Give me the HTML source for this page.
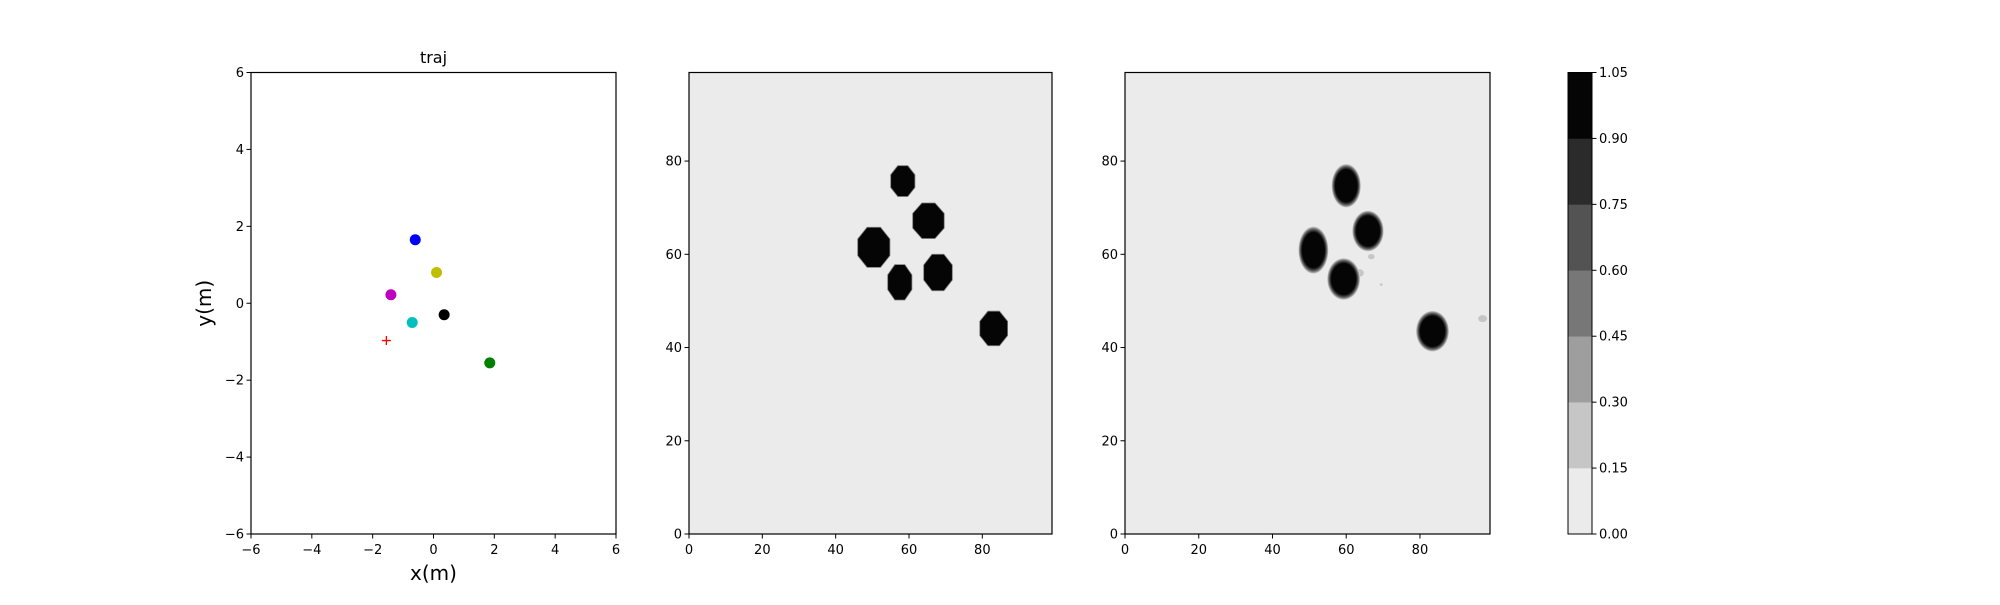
<!DOCTYPE html>
<html><head><meta charset="utf-8"><style>
html,body{margin:0;padding:0;background:#fff;}
svg text{font-family:"DejaVu Sans","Liberation Sans",sans-serif;fill:#000;}
</style></head><body>
<svg id="fig" width="2000" height="600" xmlns="http://www.w3.org/2000/svg">
<defs>
<radialGradient id="soft" cx="0.5" cy="0.5" r="0.5">
<stop offset="0" stop-color="#050505"/><stop offset="0.74" stop-color="#050505"/>
<stop offset="0.8" stop-color="#2b2b2b"/><stop offset="0.86" stop-color="#535353"/>
<stop offset="0.9" stop-color="#777"/><stop offset="0.94" stop-color="#9e9e9e"/>
<stop offset="0.975" stop-color="#c6c6c6"/><stop offset="1" stop-color="#ebebeb"/>
</radialGradient>
</defs>
</svg>
<script>
// Panel 1 data: trajectory points
const ptX = [-0.6, 0.1, -1.4, 0.35, -0.7, 1.85];
const ptY = [1.65, 0.8, 0.22, -0.3, -0.5, -1.55];
const ptColors = ['#0000ff','#bfbf00','#bf00bf','#000000','#00bfbf','#008000'];
const goalX = [-1.55];
const goalY = [-0.97];
const p1Ticks = [-6,-4,-2,0,2,4,6];
// Panel 2 data: hard octagon blobs (center x, center y, radius x, radius y)
const b2X = [58.3, 65.3, 50.4, 57.5, 67.9, 83.1];
const b2Y = [75.7, 67.2, 61.5, 54.0, 56.1, 44.1];
const b2RX = [3.3, 4.3, 4.4, 3.3, 3.9, 3.8];
const b2RY = [3.3, 3.8, 4.3, 3.8, 3.9, 3.7];
// Panel 3 data: soft blobs
const b3X = [60.0, 65.9, 51.1, 59.3, 83.4];
const b3Y = [74.7, 65.0, 60.9, 54.7, 43.5];
const b3RX = [4.0, 4.3, 4.1, 4.5, 4.5];
const b3RY = [4.7, 4.4, 5.1, 4.5, 4.4];
const speckX = [69.5, 97.0, 66.8, 63.5];
const speckY = [53.5, 46.2, 59.5, 56.0];
const speckR = [0.4, 1.2, 0.9, 1.3];
const hmTicks = [0,20,40,60,80];
// Colorbar
const cbLevels = [0,0.15,0.30,0.45,0.60,0.75,0.90,1.05];
const cbColors = ['#ebebeb','#c6c6c6','#9e9e9e','#777777','#535353','#2b2b2b','#050505'];
const cbLabels = ['0.00','0.15','0.30','0.45','0.60','0.75','0.90','1.05'];

const NS='http://www.w3.org/2000/svg';
const svg=document.getElementById('fig');
function mk(tag,attrs,parent){const e=document.createElementNS(NS,tag);for(const k in attrs)e.setAttribute(k,attrs[k]);(parent||svg).appendChild(e);return e;}
const TOP=72.5,BOT=534;
function lin(d0,d1,p0,p1){return v=>p0+(v-d0)/(d1-d0)*(p1-p0);}

function axesFrame(g,L,R,fill){
  const r=mk('rect',{x:L,y:TOP,width:R-L,height:BOT-TOP,fill:fill,stroke:'#000','stroke-width':1.2},g);
  
  
}
function ticks(g,xs,xf,ys,yf,L,fmt){
  xs.forEach(v=>{const x=xf(v);
    mk('line',{x1:x,x2:x,y1:BOT,y2:BOT+4.5,stroke:'#000'},g);
    const t=mk('text',{x:x,y:BOT+20,'text-anchor':'middle','font-size':13},g);t.textContent=fmt(v);
    
    });
  ys.forEach(v=>{const y=yf(v);
    mk('line',{x1:L-4.5,x2:L,y1:y,y2:y,stroke:'#000'},g);
    const t=mk('text',{x:L-7,y:y+4.5,'text-anchor':'end','font-size':13},g);t.textContent=fmt(v);
    
    });
}
const fmtN=v=>(v<0?'\u2212'+Math.abs(v):''+v);

// Panel 1
const g1=mk('g',{});


const L1=251,R1=616;
axesFrame(g1,L1,R1,'#fff');
const x1=lin(-6,6,L1,R1), y1=lin(-6,6,BOT,TOP);
ticks(g1,p1Ticks,x1,p1Ticks,y1,L1,fmtN);
ptX.forEach((v,i)=>{const c=mk('circle',{cx:x1(v),cy:y1(ptY[i]),r:5.5,fill:ptColors[i]},g1);
  
  });
goalX.forEach((v,i)=>{const cx=x1(v),cy=y1(goalY[i]);
  const p=mk('path',{d:`M${cx-4.5},${cy}H${cx+4.5}M${cx},${cy-4.5}V${cy+4.5}`,stroke:'#ff0000','stroke-width':1.3},g1);
  
  });
let t=mk('text',{x:(L1+R1)/2,y:63,'text-anchor':'middle','font-size':16},g1);t.textContent='traj';


t=mk('text',{x:(L1+R1)/2,y:580,'text-anchor':'middle','font-size':20},g1);t.textContent='x(m)';


t=mk('text',{x:211,y:(TOP+BOT)/2,'text-anchor':'middle','font-size':20,transform:`rotate(-90 211 ${(TOP+BOT)/2})`},g1);t.textContent='y(m)';



// Panel 2
const g2=mk('g',{});


const L2=689,R2=1052;
const x2=lin(0,99,L2,R2), y2=lin(0,99,BOT,TOP);
mk('rect',{x:L2,y:TOP,width:R2-L2,height:BOT-TOP,fill:'#ebebeb'},g2);
b2X.forEach((v,i)=>{
  const cx=x2(v),cy=y2(b2Y[i]),rx=x2(v+b2RX[i])-cx,ry=cy-y2(b2Y[i]+b2RY[i]);
  let pts=[];for(let k=0;k<8;k++){const a=Math.PI/8+k*Math.PI/4;pts.push((cx+rx*Math.cos(a)/Math.cos(Math.PI/8)).toFixed(1)+','+(cy+ry*Math.sin(a)/Math.cos(Math.PI/8)).toFixed(1));}
  const p=mk('polygon',{points:pts.join(' '),fill:'#050505',stroke:'#777','stroke-width':0.8},g2);
  
  
});
axesFrame(g2,L2,R2,'none');
ticks(g2,hmTicks,x2,hmTicks,y2,L2,fmtN);

// Panel 3
const g3=mk('g',{});


const L3=1125,R3=1490;
const x3=lin(0,99,L3,R3), y3=lin(0,99,BOT,TOP);
mk('rect',{x:L3,y:TOP,width:R3-L3,height:BOT-TOP,fill:'#ebebeb'},g3);
speckX.forEach((v,i)=>{const r=x3(v+speckR[i])-x3(v);
  const c=mk('ellipse',{cx:x3(v),cy:y3(speckY[i]),rx:r,ry:r*0.8,fill:'#c6c6c6'},g3);
  
  });
b3X.forEach((v,i)=>{
  const cx=x3(v),cy=y3(b3Y[i]),rx=x3(v+b3RX[i])-cx,ry=cy-y3(b3Y[i]+b3RY[i]);
  const e=mk('ellipse',{cx:cx,cy:cy,rx:rx,ry:ry,fill:'url(#soft)'},g3);
  
  
});
axesFrame(g3,L3,R3,'none');
ticks(g3,hmTicks,x3,hmTicks,y3,L3,fmtN);

// Colorbar
const gc=mk('g',{});


const CL=1568,CR=1592;
const yc=lin(0,1.05,BOT,TOP);
cbColors.forEach((c,i)=>{const ya=yc(cbLevels[i+1]),yb=yc(cbLevels[i]);
  const r=mk('rect',{x:CL,y:ya,width:CR-CL,height:yb-ya+0.3,fill:c},gc);
  
  });
mk('rect',{x:CL,y:TOP,width:CR-CL,height:BOT-TOP,fill:'none',stroke:'#000','stroke-width':1},gc);
cbLevels.forEach((v,i)=>{const y=yc(v);
  mk('line',{x1:CR,x2:CR+4.5,y1:y,y2:y,stroke:'#000'},gc);
  const t=mk('text',{x:CR+7,y:y+4.5,'font-size':13},gc);t.textContent=cbLabels[i];
  
  });
</script>
</body></html>
